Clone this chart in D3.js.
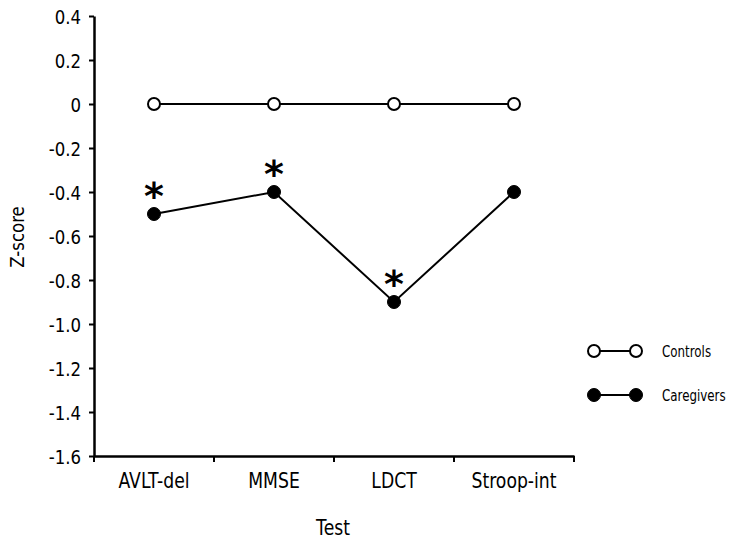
<!DOCTYPE html>
<html><head><meta charset="utf-8">
<script src="https://cdn.jsdelivr.net/npm/d3@7"></script>
<style>
body{margin:0;background:#fff;}
text{font-family:"DejaVu Sans",sans-serif;fill:#000;}
</style></head>
<body><svg id="c" width="730" height="540"></svg>
<script>
const categories = ["AVLT-del","MMSE","LDCT","Stroop-int"];
const controls = [0,0,0,0];
const caregivers = [-0.5,-0.4,-0.9,-0.4];
const significant = [true,true,true,false];
const yTicks = [0.4,0.2,0,-0.2,-0.4,-0.6,-0.8,-1.0,-1.2,-1.4,-1.6];
const seriesNames = ["Controls","Caregivers"];

const svg = d3.select("#c");
const x = d3.scaleBand().domain(categories).range([94,574]);
const y = d3.scaleLinear().domain([-1.6,0.4]).range([456,16]);
const fmt = v => v===0 ? "0" : d3.format(".1f")(v).replace("\u2212","-");

// condense helper: squeeze glyphs horizontally
function condense(sel, f){
  sel.each(function(){
    const w = this.getComputedTextLength();
    d3.select(this).attr("textLength", w*f).attr("lengthAdjust","spacingAndGlyphs");
  });
}

// y axis
const ya = svg.append("g").attr("transform","translate(94,0)")
  .call(d3.axisLeft(y).tickValues(yTicks).tickFormat(fmt).tickSize(5).tickSizeOuter(0));
ya.select(".domain").attr("stroke-width",2.5);
ya.selectAll(".tick line").attr("stroke-width",2);
ya.selectAll(".tick text").attr("font-size",19.5).attr("x",-13).attr("dy","0.36em")
  .style("font-family","DejaVu Sans, sans-serif");
condense(ya.selectAll(".tick text"),0.85);

// x axis
const xa = svg.append("g").attr("transform","translate(0,456)")
  .call(d3.axisBottom(x).tickSize(0).tickSizeOuter(0));
xa.select(".domain").attr("stroke-width",2.5);
xa.selectAll(".tick text").attr("font-size",21).attr("dy",0).attr("y",32)
  .style("font-family","DejaVu Sans, sans-serif");
condense(xa.selectAll(".tick text"),0.82);
// boundary ticks
const bounds = categories.map(c=>x(c)).concat([x.range()[1]]);
svg.append("g").selectAll("line").data(bounds).join("line")
  .attr("x1",d=>d).attr("x2",d=>d).attr("y1",456).attr("y2",462)
  .attr("stroke","#000").attr("stroke-width",2);

const cx = c => x(c) + x.bandwidth()/2;
const line = d3.line().x((d,i)=>cx(categories[i])).y(d=>y(d));

svg.append("path").datum(controls).attr("d",line).attr("fill","none").attr("stroke","#000").attr("stroke-width",2);
svg.append("path").datum(caregivers).attr("d",line).attr("fill","none").attr("stroke","#000").attr("stroke-width",2);

svg.append("g").selectAll("circle").data(controls).join("circle")
  .attr("cx",(d,i)=>cx(categories[i])).attr("cy",d=>y(d)).attr("r",6)
  .attr("fill","#fff").attr("stroke","#000").attr("stroke-width",2);
svg.append("g").selectAll("circle").data(caregivers).join("circle")
  .attr("cx",(d,i)=>cx(categories[i])).attr("cy",d=>y(d)).attr("r",6.5)
  .attr("fill","#000").attr("stroke","#000").attr("stroke-width",1);

// significance stars
svg.append("g").selectAll("text").data(caregivers.map((v,i)=>({v,i})).filter(d=>significant[d.i])).join("text")
  .attr("x",d=>cx(categories[d.i])).attr("y",d=>y(d.v)-5)
  .attr("text-anchor","middle").attr("font-size",38).attr("font-weight","bold")
  .text("*");

// axis titles
const tt = svg.append("text").attr("x",333).attr("y",535).attr("text-anchor","middle").attr("font-size",21).text("Test");
condense(tt,0.82);
const zt = svg.append("text").attr("transform","translate(24,237) rotate(-90)").attr("text-anchor","middle").attr("font-size",19.5).text("Z-score");
condense(zt,0.85);

// legend
const lg = svg.append("g");
seriesNames.forEach((name,k)=>{
  const ly = 351 + k*44;
  lg.append("line").attr("x1",594).attr("x2",636).attr("y1",ly).attr("y2",ly).attr("stroke","#000").attr("stroke-width",2);
  [594,636].forEach(px=>{
    lg.append("circle").attr("cx",px).attr("cy",ly).attr("r",k===0?6:6.5)
      .attr("fill",k===0?"#fff":"#000").attr("stroke","#000").attr("stroke-width",k===0?2:1);
  });
  lg.append("text").attr("transform",`translate(662,${ly+6}) scale(0.72,1)`)
    .attr("font-size",16.5).text(name);
});
</script></body></html>
